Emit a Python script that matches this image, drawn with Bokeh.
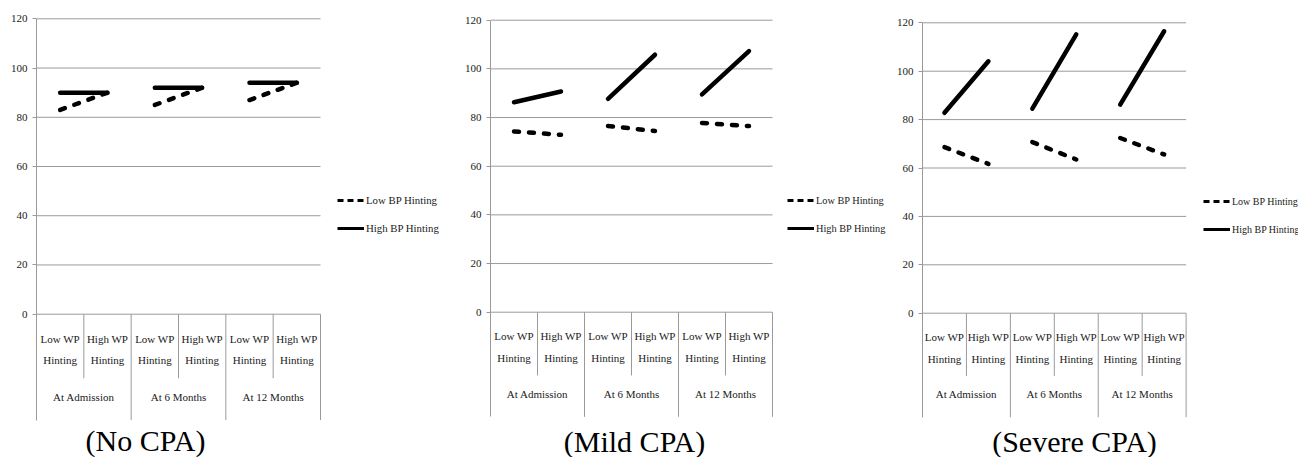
from bokeh.plotting import figure
from bokeh.models import Range1d, FixedTicker, Legend, LegendItem, Label, Row
from bokeh.core.properties import value
from bokeh.embed import file_html
from bokeh.resources import INLINE

# ---------------- data ----------------
groups = ["At Admission", "At 6 Months", "At 12 Months"]
subgroups = ["Low WP\nHinting", "High WP\nHinting"]
series_names = ["Low BP Hinting", "High BP Hinting"]
y_ticks = [0, 20, 40, 60, 80, 100, 120]
panel_titles = ["(No CPA)", "(Mild CPA)", "(Severe CPA)"]

no_cpa_low = [83, 90, 85, 92, 87, 94]
no_cpa_high = [90, 90, 92, 92, 94, 94]
mild_low = [74.3, 72.9, 76.5, 74.5, 77.8, 76.5]
mild_high = [86.3, 90.7, 87.7, 105.8, 89.5, 107.3]
severe_low = [68.6, 61.7, 70.7, 63.5, 72.4, 65.6]
severe_high = [82.8, 104.1, 84.5, 115.2, 86.2, 116.5]

# ---------------- style / layout ----------------
FONT = "'Liberation Serif', serif"
GRID = "#9a9a9a"
INK = "#1a1a1a"
H = 457
SUB_SEP_BOTTOM = -26
GROUP_SEP_BOTTOM = -43
SUB_LABEL_Y = -14.3
GROUP_LABEL_Y = -33.5

panels = [
    dict(fx=0, W=455, left=36, right=320, top=18.3, y0=313.7, lx=337, ly=200, lfs="10.8px", tx=145, ty=440),
    dict(fx=455, W=438, left=490, right=772, top=19.7, y0=311.7, lx=787, ly=200, lfs="10.3px", tx=634, ty=441),
    dict(fx=893, W=405, left=920, right=1185, top=22.3, y0=312.7, lx=1201, ly=201, lfs="10px", tx=1072, ty=441),
]
series = [(no_cpa_low, no_cpa_high), (mild_low, mild_high), (severe_low, severe_high)]

n_sub = len(subgroups)
n_cat = len(groups) * n_sub


def make_panel(title, low, high, c):
    bl = c["left"] - c["fx"]
    W = c["W"]
    frame_w = W - bl
    unit = (c["right"] - c["left"]) / n_cat
    ppu = (c["y0"] - c["top"]) / y_ticks[-1]
    y0c = c["y0"]
    p = figure(width=W, height=H, output_backend="svg", toolbar_location=None,
               x_axis_location=None, y_axis_location="left",
               min_border_left=bl, min_border_right=0, min_border_top=0, min_border_bottom=0,
               x_range=Range1d(0, frame_w / unit),
               y_range=Range1d(-(H - y0c) / ppu, y0c / ppu),
               outline_line_color=None, background_fill_color="white",
               border_fill_color="white")
    p.xgrid.grid_line_color = None
    p.ygrid.grid_line_color = None

    ax = p.yaxis[0]
    ax.ticker = FixedTicker(ticks=y_ticks)
    ax.bounds = (GROUP_SEP_BOTTOM, y_ticks[-1])
    ax.axis_line_color = GRID
    ax.major_tick_line_color = GRID
    ax.major_tick_in = 0
    ax.major_tick_out = 4
    ax.minor_tick_line_color = None
    ax.major_label_text_font = FONT
    ax.major_label_text_font_size = "11px"
    ax.major_label_text_color = INK
    ax.major_label_standoff = 5

    # horizontal gridlines over the category span
    p.segment(x0=[0] * len(y_ticks), x1=[n_cat] * len(y_ticks), y0=y_ticks, y1=y_ticks,
              line_color=GRID, line_width=1)
    # category separators
    sep_x = list(range(1, n_cat + 1))
    sep_y1 = [GROUP_SEP_BOTTOM if i % n_sub == 0 else SUB_SEP_BOTTOM for i in sep_x]
    p.segment(x0=sep_x, x1=sep_x, y0=[0] * len(sep_x), y1=sep_y1, line_color=GRID, line_width=1)

    # category labels
    sub_x = [i + 0.5 for i in range(n_cat)]
    sub_t = [subgroups[i % n_sub] for i in range(n_cat)]
    p.text(x=sub_x, y=[SUB_LABEL_Y] * n_cat, text=sub_t, text_font=value(FONT),
           text_font_size="11px", text_align="center", text_baseline="middle",
           text_line_height=1.8, text_color=INK)
    grp_x = [g * n_sub + n_sub / 2 for g in range(len(groups))]
    p.text(x=grp_x, y=[GROUP_LABEL_Y] * len(groups), text=groups, text_font=value(FONT),
           text_font_size="11px", text_align="center", text_baseline="middle", text_color=INK)

    # data segments (one per time point)
    xs = [[g * n_sub + 0.5, g * n_sub + 1.5] for g in range(len(groups))]
    ys_low = [[low[g * n_sub], low[g * n_sub + 1]] for g in range(len(groups))]
    ys_high = [[high[g * n_sub], high[g * n_sub + 1]] for g in range(len(groups))]
    p.multi_line(xs=xs, ys=ys_low, line_color="black", line_width=4.5, line_dash="5 10",
                 line_cap="round")
    p.multi_line(xs=xs, ys=ys_high, line_color="black", line_width=4.5, line_cap="round")

    # legend keys (thinner, as in the original); single-point lines draw nothing on the plot
    k_low = p.line(x=[xs[0][0]], y=[low[0]], line_color="black", line_width=3, line_dash="6 4")
    k_high = p.line(x=[xs[0][0]], y=[high[0]], line_color="black", line_width=3)

    leg_top = c["ly"] - 10
    legend = Legend(items=[LegendItem(label=series_names[0], renderers=[k_low]),
                           LegendItem(label=series_names[1], renderers=[k_high])],
                    location=(c["lx"] - c["left"], H - (leg_top + 48)),
                    orientation="vertical", glyph_width=27, glyph_height=20, label_height=20,
                    spacing=8, padding=0, margin=0, border_line_color=None,
                    background_fill_alpha=0, label_standoff=2,
                    label_text_font=FONT, label_text_font_size=c["lfs"], label_text_color=INK)
    p.add_layout(legend)

    p.add_layout(Label(x=c["tx"] - c["left"], y=H - c["ty"], x_units="screen", y_units="screen",
                       text=title, text_align="center", text_baseline="middle",
                       text_font=FONT, text_font_size="30px", text_color="black"))
    return p


figs = [make_panel(t, s[0], s[1], c) for t, s, c in zip(panel_titles, series, panels)]
layout = Row(children=figs, spacing=0)
open("out.html", "w").write(file_html(layout, INLINE))
